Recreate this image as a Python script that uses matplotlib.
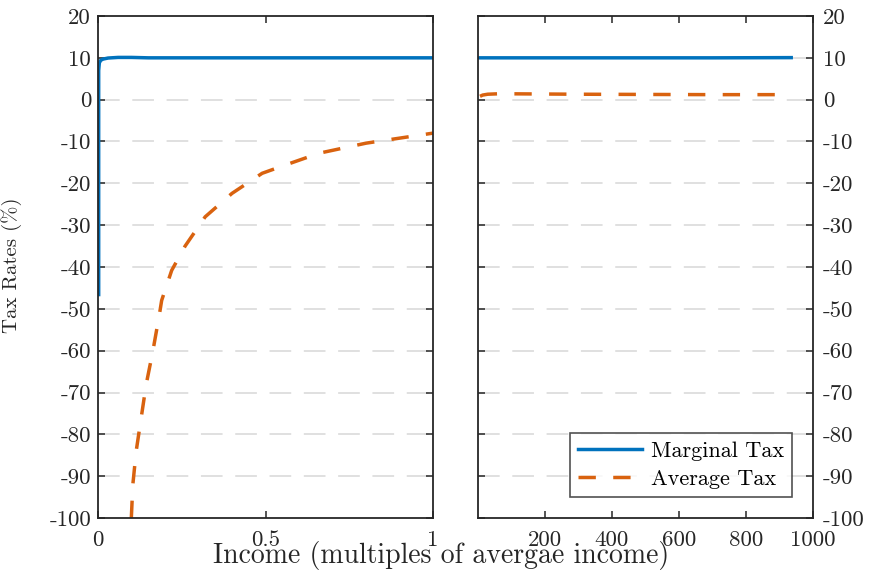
import matplotlib
matplotlib.use("Agg")
import matplotlib.pyplot as plt

plt.rcParams['font.family'] = ['cmr10', 'DejaVu Serif']
plt.rcParams['mathtext.fontset'] = 'cm'
plt.rcParams['axes.unicode_minus'] = False

# Left panel data (income 0..1)
marg_x_low = [0.002, 0.002, 0.002, 0.004, 0.008, 0.015, 0.03, 0.06, 0.1, 0.15, 1.0]
marg_y_low = [-47, -15, 7.0, 8.8, 9.4, 9.7, 9.95, 10.1, 10.1, 10.0, 10.0]
avg_x_low = [0.0995, 0.104, 0.114, 0.129, 0.144, 0.164, 0.184, 0.19, 0.22, 0.26,
             0.32, 0.40, 0.49, 0.56, 0.66, 0.80, 1.0]
avg_y_low = [-100, -92, -84, -76, -68, -60, -51, -48, -40.8, -35,
             -28, -22.4, -17.6, -15.6, -12.8, -10.4, -8.0]

# Right panel data (income up to 1000)
marg_x_high = [7, 100, 300, 500, 700, 935]
marg_y_high = [10.0, 10.0, 10.0, 10.0, 10.0, 10.05]
avg_x_high = [7, 15, 30, 60, 100, 300, 500, 700, 935]
avg_y_high = [0.8, 1.1, 1.3, 1.4, 1.4, 1.3, 1.25, 1.2, 1.2]

yticks = list(range(-100, 21, 10))
xticks_low = [0, 0.5, 1]
xticklabels_low = ['0', '0.5', '1']
xticks_high = [200, 400, 600, 800, 1000]

blue = '#0072BD'
orange = '#D9620F'
spine_c = '#262626'

fig = plt.figure(figsize=(8.73, 5.75), dpi=100)
ax1 = fig.add_axes([98/873, 1-518/575, 335/873, 502/575])
ax2 = fig.add_axes([478/873, 1-518/575, 335/873, 502/575])

for ax in (ax1, ax2):
    ax.set_ylim(-100, 20)
    ax.set_yticks(yticks)
    for s in ax.spines.values():
        s.set_color(spine_c)
        s.set_linewidth(1.3)
    ax.tick_params(direction='in', length=5, width=1.1, colors=spine_c,
                   labelcolor='#262626', labelsize=16.5, top=True, right=True)
    ax.tick_params(axis='x', pad=9)
    ax.tick_params(axis='y', pad=5)
    for y in yticks[1:-1]:
        ax.axhline(y, color='#dddddd', lw=1.3, dashes=(12, 7), zorder=0)

ax1.plot(marg_x_low, marg_y_low, color=blue, lw=2.5, solid_capstyle='butt')
ax1.plot(avg_x_low, avg_y_low, color=orange, lw=2.5, dashes=(5, 5))
ax1.set_xlim(0, 1)
ax1.set_xticks(xticks_low)
ax1.set_xticklabels(xticklabels_low)
ax1.set_ylabel('Tax Rates (%)', fontsize=15, color='#262626')
ax1.yaxis.set_label_coords(-(98 - 22) / 335, (518 - 265) / 502)

ax2.plot(marg_x_high, marg_y_high, color=blue, lw=2.5, label='Marginal Tax')
ax2.plot(avg_x_high, avg_y_high, color=orange, lw=2.5, dashes=(5, 5), label='Average Tax')
ax2.set_xlim(1, 1000)
ax2.set_xticks(xticks_high)
ax2.yaxis.tick_right()
ax2.tick_params(left=True, right=True, labelleft=False, labelright=True)
ax2.tick_params(axis='y', pad=7)

leg = ax2.legend(loc='lower right', bbox_to_anchor=(0.937, 0.042), fontsize=16,
                 frameon=True, fancybox=False, edgecolor='#262626',
                 borderaxespad=0, handlelength=2.9, borderpad=0.35,
                 labelspacing=0.4, handletextpad=0.4)
leg.get_frame().set_linewidth(1.2)

fig.text(441/873, 1-555/575, 'Income (multiples of avergae income)', fontsize=20,
         ha='center', va='center', color='#262626')

fig.savefig('out.png', dpi=100)
